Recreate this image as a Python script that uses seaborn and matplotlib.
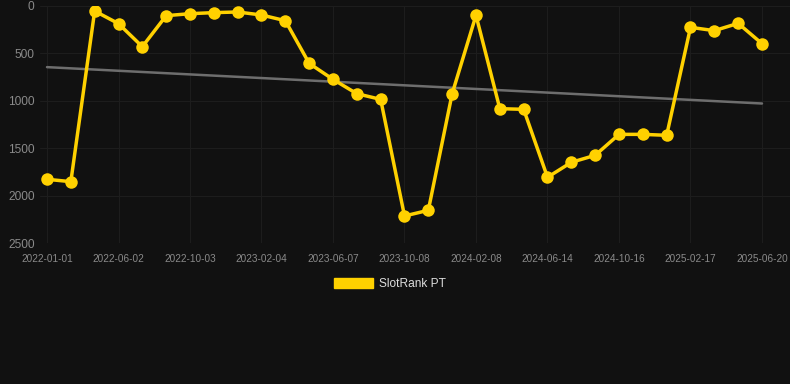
import numpy as np
import pandas as pd
import matplotlib
matplotlib.use("Agg")
import matplotlib.pyplot as plt
from matplotlib.patches import Patch
import seaborn as sns

# rank values (lower = better), one per period
rank_values = [1828, 1853, 53, 186, 429, 102, 81, 70, 63, 95, 155, 605, 774, 925, 985,
               2215, 2155, 925, 98, 1083, 1090, 1807, 1649, 1575, 1354, 1354, 1364,
               225, 260, 183, 397]
tick_labels = ["2022-01-01", "2022-06-02", "2022-10-03", "2023-02-04", "2023-06-07",
               "2023-10-08", "2024-02-08", "2024-06-14", "2024-10-16", "2025-02-17",
               "2025-06-20"]
y_ticks = [0, 500, 1000, 1500, 2000, 2500]
series_name = "SlotRank PT"

bg = "#111111"
gold = "#FFD100"

df = pd.DataFrame({"idx": np.arange(len(rank_values)), "rank": rank_values})

# linear trend over the whole series
coef = np.polyfit(df["idx"], df["rank"], 1)
df["trend"] = np.polyval(coef, df["idx"])

sns.set_style("dark")
plt.rcParams["font.family"] = ["Liberation Sans", "DejaVu Sans"]

fig = plt.figure(figsize=(7.9, 3.84), dpi=100, facecolor=bg)
ax = fig.add_axes([40 / 790, 1 - 243 / 384, 750 / 790, 237 / 384])
ax.set_facecolor(bg)

sns.lineplot(data=df, x="idx", y="trend", ax=ax, color="#6e6e6e", linewidth=1.8)
sns.lineplot(data=df, x="idx", y="rank", ax=ax, color=gold, linewidth=2.5,
             marker="o", markersize=9, markeredgewidth=0, markerfacecolor=gold)

ax.set_ylim(2500, 0)
ax.set_yticks(y_ticks)
ax.set_yticklabels([str(v) for v in y_ticks], color="#8a8a8a", fontsize=8.6)

tick_pos = np.arange(0, len(rank_values), 3)
ax.set_xticks(tick_pos)
ax.set_xticklabels(tick_labels, color="#8a8a8a", fontsize=7.2)
ax.set_xlim(-7 / 23.83, 30 + 28 / 23.83)

ax.grid(True, color="#1d1d1d", linewidth=0.8)
ax.tick_params(axis="x", length=5, color="#1d1d1d", pad=3)
ax.tick_params(axis="y", length=0, pad=4)
for s in ax.spines.values():
    s.set_visible(False)
ax.set_xlabel("")
ax.set_ylabel("")

handle = Patch(facecolor=gold, edgecolor=gold)
fig.legend([handle], [series_name], loc="center", bbox_to_anchor=(390 / 790, 1 - 284 / 384),
           frameon=False, fontsize=8.6, labelcolor="#dddddd",
           handlelength=3.3, handleheight=1.0, handletextpad=0.5)

fig.savefig("out.png", dpi=100, facecolor=bg)
